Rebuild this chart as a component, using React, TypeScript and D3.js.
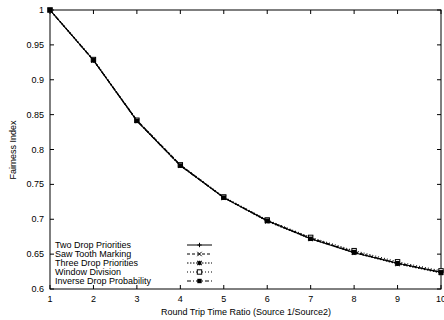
import * as d3 from "d3";

const ratios = [1, 2, 3, 4, 5, 6, 7, 8, 9, 10];
const twoDrop = [1, 0.928, 0.841, 0.777, 0.731, 0.698, 0.672, 0.652, 0.637, 0.624];
const sawTooth = [1, 0.928, 0.842, 0.778, 0.731, 0.698, 0.673, 0.653, 0.637, 0.624];
const threeDrop = [1, 0.928, 0.841, 0.777, 0.731, 0.697, 0.672, 0.652, 0.636, 0.623];
const windowDiv = [1, 0.929, 0.842, 0.778, 0.732, 0.699, 0.674, 0.655, 0.639, 0.626];
const inverseDrop = [1, 0.928, 0.841, 0.777, 0.731, 0.698, 0.672, 0.653, 0.637, 0.624];

const xTicks = [1, 2, 3, 4, 5, 6, 7, 8, 9, 10];
const yTicks = [0.6, 0.65, 0.7, 0.75, 0.8, 0.85, 0.9, 0.95, 1];

const seriesNames = [
  "Two Drop Priorities",
  "Saw Tooth Marking",
  "Three Drop Priorities",
  "Window Division",
  "Inverse Drop Probability",
];
const seriesValues = [twoDrop, sawTooth, threeDrop, windowDiv, inverseDrop];
const dashes = ["", "3,2", "1.5,1.5", "1,2", "4,2,1,2"];
const markers = ["plus", "cross", "star", "square", "filled"];

const W = 444;
const H = 320;
const left = 50;
const right = 441;
const top = 10;
const bottom = 289;

const x = d3.scaleLinear().domain([1, 10]).range([left, right]);
const y = d3.scaleLinear().domain([0.6, 1]).range([bottom, top]);

const font = "'Liberation Sans', Arial, Helvetica, sans-serif";

function Marker({ kind, cx, cy }: { kind: string; cx: number; cy: number }) {
  const r = 2.2;
  if (kind === "plus")
    return (
      <path d={`M${cx - r},${cy}H${cx + r}M${cx},${cy - r}V${cy + r}`} stroke="#000" strokeWidth={1} />
    );
  if (kind === "cross")
    return (
      <path
        d={`M${cx - r},${cy - r}L${cx + r},${cy + r}M${cx - r},${cy + r}L${cx + r},${cy - r}`}
        stroke="#000"
        strokeWidth={1}
      />
    );
  if (kind === "star")
    return (
      <path
        d={`M${cx - r},${cy - r}L${cx + r},${cy + r}M${cx - r},${cy + r}L${cx + r},${cy - r}M${cx - r},${cy}H${cx + r}M${cx},${cy - r}V${cy + r}`}
        stroke="#000"
        strokeWidth={1.2}
      />
    );
  if (kind === "square")
    return <rect x={cx - r} y={cy - r} width={2 * r} height={2 * r} fill="#fff" stroke="#000" strokeWidth={1} />;
  return <rect x={cx - r} y={cy - r} width={2 * r} height={2 * r} fill="#000" />;
}

export default function App() {
  const line = d3
    .line<number>()
    .x((_, i) => x(ratios[i]))
    .y((d) => y(d));

  const legendY = [245, 254, 263, 272, 281];

  return (
    <svg width={W} height={H} style={{ display: "block", position: "absolute", left: 0, top: 0 }}>
      <rect width={W} height={H} fill="#fff" />
      {/* ticks, mirrored on top and right */}
      {xTicks.map((t) => (
        <g key={"x" + t}>
          <line x1={x(t)} x2={x(t)} y1={bottom} y2={bottom - 4} stroke="#000" />
          <line x1={x(t)} x2={x(t)} y1={top} y2={top + 4} stroke="#000" />
          <text x={x(t)} y={302} fontSize={9} fontFamily={font} textAnchor="middle" fill="#000">
            {t}
          </text>
        </g>
      ))}
      {yTicks.map((t) => (
        <g key={"y" + t}>
          <line x1={left} x2={left + 4} y1={y(t)} y2={y(t)} stroke="#000" />
          <line x1={right} x2={right - 4} y1={y(t)} y2={y(t)} stroke="#000" />
          <text x={44} y={y(t) + 3} fontSize={9} fontFamily={font} textAnchor="end" fill="#000">
            {d3.format("")(t)}
          </text>
        </g>
      ))}
      <rect x={left} y={top} width={right - left} height={bottom - top} fill="none" stroke="#000" strokeWidth={1} />
      {seriesValues.map((vals, s) => (
        <g key={seriesNames[s]}>
          <path d={line(vals) ?? ""} fill="none" stroke="#000" strokeWidth={1.1} strokeDasharray={dashes[s]} />
          {vals.map((v, i) => (
            <Marker key={i} kind={markers[s]} cx={x(ratios[i])} cy={y(v)} />
          ))}
        </g>
      ))}
      {/* legend */}
      {seriesNames.map((name, s) => (
        <g key={"leg" + name}>
          <text x={55} y={legendY[s] + 3} fontSize={9} fontFamily={font} fill="#000">
            {name}
          </text>
          <line x1={187} x2={212} y1={legendY[s]} y2={legendY[s]} stroke="#000" strokeDasharray={dashes[s]} />
          <Marker kind={markers[s]} cx={199.5} cy={legendY[s]} />
        </g>
      ))}
      <text x={246} y={315} fontSize={9} fontFamily={font} textAnchor="middle" fill="#000">
        Round Trip Time Ratio (Source 1/Source2)
      </text>
      <text
        transform="translate(14,150) rotate(-90)"
        fontSize={9}
        fontFamily={font}
        textAnchor="middle"
        dominantBaseline="middle"
        fill="#000"
      >
        Fairness Index
      </text>
    </svg>
  );
}
